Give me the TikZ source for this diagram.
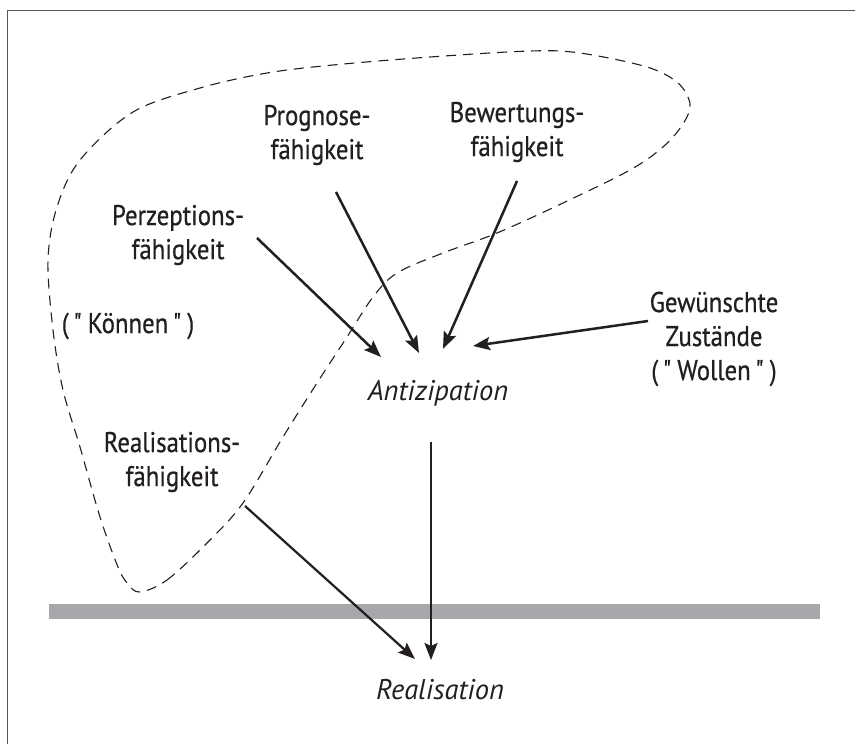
\documentclass[tikz,border=0pt]{standalone}
\usepackage{fontspec}
\setmainfont{PT Sans}[FakeStretch=0.87,FakeBold=0.6]
\newfontfamily\itfam{PT Sans}
\usetikzlibrary{arrows.meta}
\definecolor{bargray}{HTML}{A7A8AC}
\definecolor{framegray}{HTML}{555555}
\definecolor{ink}{HTML}{231F20}
\newcommand{\sq}{\XeTeXglyph\XeTeXcharglyph"22\relax}
\tikzset{
  lbl/.style={font=\fontsize{28.5}{34}\selectfont, align=center, inner sep=0pt, text=ink},
  itlbl/.style={font=\itfam\itshape\fontsize{28.5}{34}\selectfont, inner sep=0pt, text=ink},
  arr/.style={draw=ink, line width=2.5pt, -{Stealth[length=17pt,width=13pt,inset=3pt]}},
  arrthin/.style={draw=ink, line width=2.2pt, -{Stealth[length=17pt,width=13pt,inset=3pt]}},
  loopline/.style={draw=ink, line width=1.1pt, dash pattern=on 10pt off 7pt},
  framel/.style={draw=framegray, line width=1.5pt}
}
\begin{document}
\begin{tikzpicture}[x=1pt,y=-1pt]
\useasboundingbox (0,0) rectangle (855,744);
\fill[white] (0,0) rectangle (855,744);
% frame
\coordinate (fbl) at (7.5,744);
\coordinate (ftl) at (7.5,10.5);
\coordinate (ftr) at (855,10.5);
\draw[framel] (fbl) -- (ftl) -- (ftr);
% dashed "Koennen" region
\draw[loopline] plot[smooth cycle, tension=0.55] coordinates {
 (140,592) (167,580) (207,543) (243,503) (283,437) (317,383) (347,337)
 (373,297) (397,273) (443,253) (497,233) (563,203) (630,170) (663,147)
 (683,124) (690,104) (678,83) (647,67) (580,53) (530,51) (430,57)
 (333,65) (267,73) (200,88) (133,112) (80,160) (57,207) (48,260)
 (53,330) (63,390) (80,447) (100,517) (118,567) (128,584)};
% gray bar
\fill[bargray] (49,604) rectangle (820,619);
% labels
\node[lbl] (prog) at (317,135) {Prognose-\\fähigkeit};
\node[lbl] (bew) at (517,132) {Bewertungs-\\fähigkeit};
\node[lbl] (perz) at (178,235) {Perzeptions-\\fähigkeit};
\node[lbl] (realf) at (172,462) {Realisations-\\fähigkeit};
\node[lbl] (wunsch) at (714,339) {Gewünschte\\Zustände\\(\,\sq\,Wollen\,\sq\,)};
\node[lbl, anchor=base] (koennen) at (128,333) {(\,\sq\,Können\,\sq\,)};
\node[itlbl, anchor=base] (antiz) at (438,400) {Antizipation};
\node[itlbl, anchor=base] (realis) at (440,699) {Realisation};
% arrow ends
\coordinate (perzA) at (257,238);
\coordinate (perzB) at (381,357);
\coordinate (progA) at (336,192);
\coordinate (progB) at (419,353);
\coordinate (bewA) at (517,181);
\coordinate (bewB) at (443,349);
\coordinate (wunA) at (648,321);
\coordinate (wunB) at (473,346);
\coordinate (antA) at (431,442);
\coordinate (antB) at (431,660);
\coordinate (relA) at (245,506);
\coordinate (relB) at (415,659);
\draw[arr] (perzA) -- (perzB);
\draw[arr] (progA) -- (progB);
\draw[arr] (bewA) -- (bewB);
\draw[arr] (wunA) -- (wunB);
\draw[arrthin] (antA) -- (antB);
\draw[arrthin] (relA) -- (relB);
\end{tikzpicture}
\end{document}
